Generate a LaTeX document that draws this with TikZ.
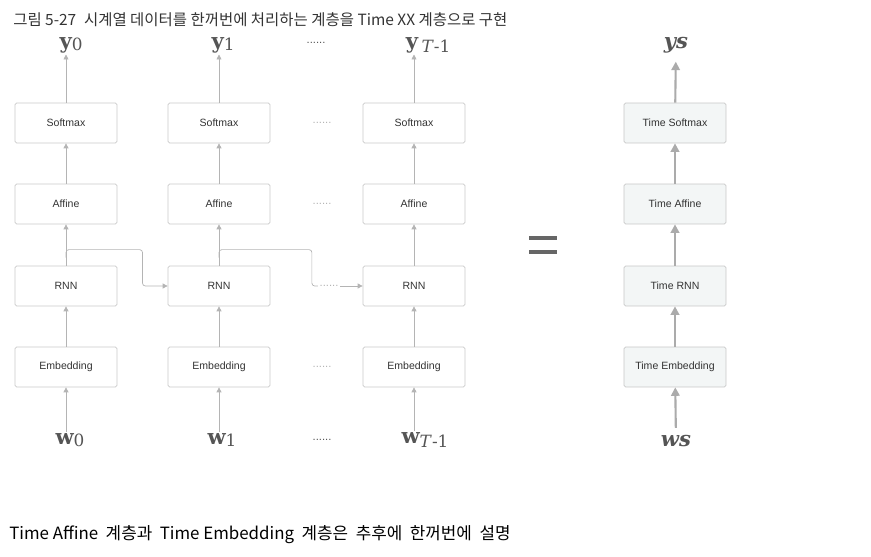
\documentclass[tikz,border=0pt]{standalone}
\usepackage{fontspec}
\setmainfont{Liberation Sans}
\newfontfamily\hangul{Noto Sans CJK KR}
\newfontfamily\varfont{DejaVu Serif}
\usetikzlibrary{arrows.meta,calc}

\definecolor{boxline}{HTML}{C8C8C8}
\definecolor{boxfill}{HTML}{F3F6F6}
\definecolor{flowgray}{HTML}{B4B4B4}
\definecolor{timegray}{HTML}{ABABAB}
\definecolor{labelgray}{HTML}{555555}
\definecolor{textgray}{HTML}{333333}

\tikzset{
  layer/.style={draw=boxline, line width=0.5pt, rounded corners=1.2pt, minimum width=2.55cm, minimum height=1cm, inner sep=0pt, text=textgray, font=\fontsize{7.5}{9}\selectfont},
  timelayer/.style={layer, fill=boxfill},
  flow/.style={draw=flowgray, line width=0.5pt, -{Triangle[length=3.5pt,width=3.5pt]}},
  timeflow/.style={draw=timegray, line width=1.5pt, -{Triangle[length=6pt,width=6pt]}},
  var/.style={text=labelgray, inner sep=1pt, font=\varfont\fontsize{15}{16}\selectfont\bfseries},
  dots/.style={text=labelgray, inner sep=1pt, font=\fontsize{8}{8}\selectfont},
  lightdots/.style={dots, text=flowgray}
}
\newcommand{\subidx}[1]{\raisebox{-1.5pt}{\mdseries\fontsize{12}{12}\selectfont #1}}
\newcommand{\subT}{\raisebox{-3pt}{\mdseries\fontsize{12}{12}\selectfont\textit{T}-1}}

\begin{document}
\begin{tikzpicture}[x=0.025cm, y=-0.025cm]
			%%%%% START %%%%%
			\useasboundingbox (0,0) rectangle (871,557);
			
			\node[anchor=west, inner sep=0pt, text=textgray, font=\hangul\fontsize{11}{12}\selectfont] (title) at (13,20) {그림 5-27\enspace 시계열 데이터를 한꺼번에 처리하는 계층을 Time XX 계층으로 구현};
			
			% time step 0
			\node[layer] (soft1) at (66,123) {Softmax};
			\node[layer] (aff1) at (66,204) {Affine};
			\node[layer] (rnn1) at (66,286) {RNN};
			\node[layer] (emb1) at (66,367) {Embedding};
			\node[var] (y1) at (71,45) {y\subidx{0}};
			\node[var] (w1) at (70,440) {w\subidx{0}};
			
			% time step 1
			\node[layer] (soft2) at (219,123) {Softmax};
			\node[layer] (aff2) at (219,204) {Affine};
			\node[layer] (rnn2) at (219,286) {RNN};
			\node[layer] (emb2) at (219,367) {Embedding};
			\node[var] (y2) at (223,45) {y\subidx{1}};
			\node[var] (w2) at (222,440) {w\subidx{1}};
			
			% time step T-1
			\node[layer] (soft3) at (414,123) {Softmax};
			\node[layer] (aff3) at (414,204) {Affine};
			\node[layer] (rnn3) at (414,286) {RNN};
			\node[layer] (emb3) at (414,367) {Embedding};
			\node[var] (y3) at (428,45) {y\,\subT};
			\node[var] (w3) at (425,440) {w\subT};
			
			% dots between step 1 and step T-1
			\node[dots] (ydots) at (316,43) {......};
			\node[lightdots] (sdots) at (322,123) {......};
			\node[lightdots] (adots) at (322,204) {......};
			\node[lightdots] (rdots) at (329,286) {......};
			\node[lightdots] (edots) at (322,367) {......};
			\node[dots] (wdots) at (322,440) {......};
			
			\foreach \i in {1,2,3} {
				\draw[flow] (w\i.north -| emb\i.south) -- (emb\i);
				\draw[flow] (emb\i) -- (rnn\i);
				\draw[flow] (rnn\i) -- (aff\i);
				\draw[flow] (aff\i) -- (soft\i);
				\draw[flow] (soft\i) -- (soft\i.north |- y\i.south);
			}
			
			% hidden state
			\draw[flow, rounded corners=2pt] ($(rnn1.north)+(0,-8)$) -- ++(0,-8) -| ($(rnn1.east)!0.5!(rnn2.west)$) -- (rnn2.west);
			\draw[draw=flowgray, line width=0.5pt, rounded corners=2pt] ($(rnn2.north)+(0,-8)$) -- ++(0,-8) -| ($(rnn2.east)!0.45!(rnn3.west)$) -- (rdots.west);
			\draw[flow] (rdots.east) -- (rnn3.west);
			
			% equals
			\fill[labelgray!90] (529,236) rectangle (557,240);
			\fill[labelgray!90] (529,250) rectangle (557,254);
			
			% time layers
			\node[timelayer] (tsoft) at (675,123) {Time Softmax};
			\node[timelayer] (taff) at (675,204) {Time Affine};
			\node[timelayer] (trnn) at (675,286) {Time RNN};
			\node[timelayer] (temb) at (675,367) {Time Embedding};
			\node[var, font=\varfont\fontsize{15}{16}\selectfont\bfseries\itshape] (ys) at (676,45) {ys};
			\node[var, font=\varfont\fontsize{15}{16}\selectfont\bfseries\itshape] (ws) at (676,441) {ws};
			
			\draw[timeflow, shorten <=4pt] (ws) -- (temb);
			\draw[timeflow] (temb) -- (trnn);
			\draw[timeflow] (trnn) -- (taff);
			\draw[timeflow] (taff) -- (tsoft);
			\draw[timeflow, shorten >=5pt] (tsoft) -- (ys);
			
			\node[anchor=west, inner sep=0pt, font=\hangul\fontsize{12}{14}\selectfont] (note) at (9,535) {Time Affine\ \ 계층과\ \ Time Embedding\ \ 계층은\ \ 추후에\ \ 한꺼번에\ \ 설명};
			%%%%% END %%%%%
\end{tikzpicture}
\end{document}
